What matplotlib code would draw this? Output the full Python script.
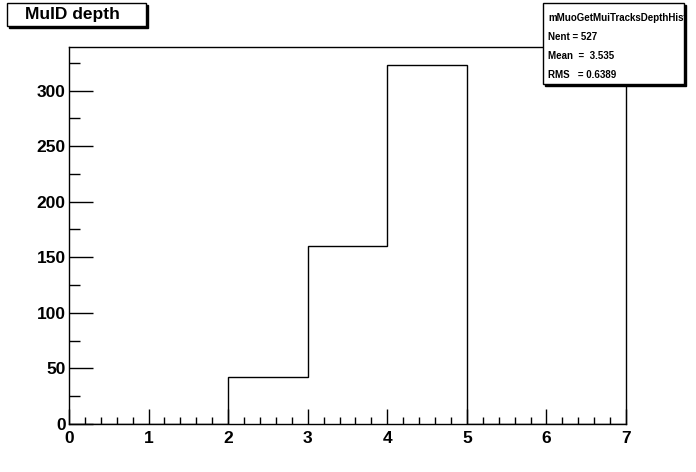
import numpy as np
import matplotlib.pyplot as plt
from matplotlib.patches import Rectangle
from matplotlib.ticker import MultipleLocator

######### DATA ##############
bin_edges = [0, 1, 2, 3, 4, 5, 6, 7]
counts = [0, 0, 42, 160, 323, 0, 0]
hist_title = 'MuID depth'
stats_name = 'mMuoGetMuiTracksDepthHist'
stats_lines = ['Nent = 527', 'Mean  =  3.535', 'RMS   = 0.6389']
#############################

plt.rcParams['font.family'] = ['Liberation Sans', 'DejaVu Sans']

W, H = 696, 472
fig = plt.figure(figsize=(W / 100, H / 100), dpi=100)
fig.patch.set_facecolor('white')

## AXES IN PIXEL COORDS
x0, x1, y0, y1 = 69, 626, 424, 47
ax = fig.add_axes([x0 / W, 1 - y0 / H, (x1 - x0) / W, (y0 - y1) / H])

ax.stairs(counts, bin_edges, color='black', linewidth=1.0)
ax.set_xlim(0, 7)
ax.set_ylim(0, max(counts) * 1.05)

ax.xaxis.set_major_locator(MultipleLocator(1))
ax.xaxis.set_minor_locator(MultipleLocator(0.2))
ax.yaxis.set_major_locator(MultipleLocator(50))
ax.yaxis.set_minor_locator(MultipleLocator(25))
ax.tick_params(axis='both', which='both', direction='in', color='black',
               width=1.0, top=False, right=False)
ax.tick_params(axis='x', which='major', length=11, pad=5, labelsize=12.5)
ax.tick_params(axis='x', which='minor', length=5)
ax.tick_params(axis='y', which='major', length=17, pad=2.5, labelsize=12.5)
ax.tick_params(axis='y', which='minor', length=8)
for lab in ax.get_xticklabels() + ax.get_yticklabels():
    lab.set_fontweight('bold')
for sp in ax.spines.values():
    sp.set_linewidth(1.0)


## BOX HELPER (ROOT STYLE WITH SHADOW)
def pix_box(left, top, right, bottom, shadow=2):
    sh = Rectangle(((left + shadow) / W, 1 - (bottom + shadow) / H),
                   (right - left) / W, (bottom - top) / H,
                   transform=fig.transFigure, facecolor='black',
                   edgecolor='black', zorder=9)
    box = Rectangle((left / W, 1 - bottom / H), (right - left) / W,
                    (bottom - top) / H, transform=fig.transFigure,
                    facecolor='white', edgecolor='black', linewidth=1.0,
                    zorder=10)
    fig.add_artist(sh)
    fig.add_artist(box)


## TITLE BOX
pix_box(7, 3, 146, 26)
fig.text(72.5 / W, 1 - 15 / H, hist_title, ha='center', va='center',
         fontsize=12.5, fontweight='bold', zorder=11)

## STATS BOX
pix_box(543, 3, 684, 84)
fig.text(548 / W, 1 - 18 / H, stats_name, ha='left', va='center',
         fontsize=7, fontweight='bold', zorder=11)
for i, line in enumerate(stats_lines):
    fig.text(548 / W, 1 - (37 + i * 19) / H, line, ha='left', va='center',
             fontsize=7, fontweight='bold', zorder=11)

plt.savefig('out.png', dpi=100)
